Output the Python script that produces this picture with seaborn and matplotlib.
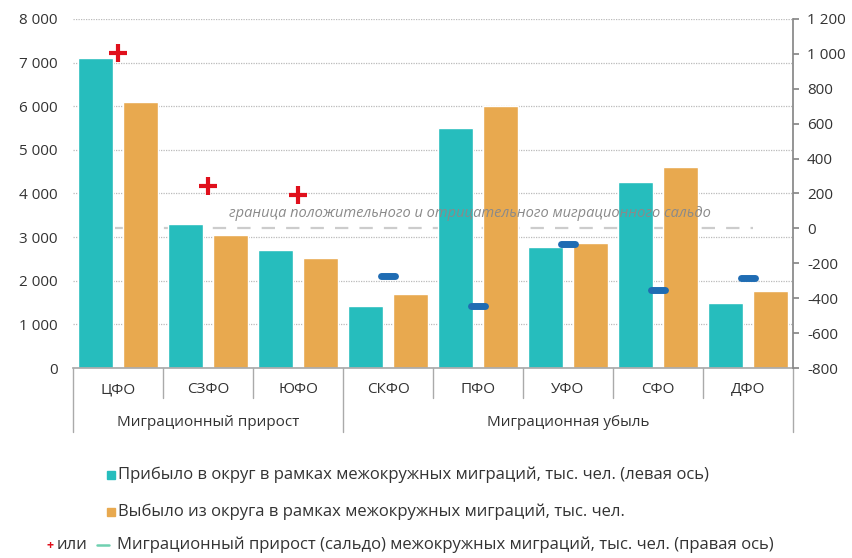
import numpy as np
import pandas as pd
import matplotlib.pyplot as plt
from matplotlib.markers import MarkerStyle
from matplotlib.patches import Rectangle
from matplotlib.lines import Line2D
import seaborn as sns

# данные (тыс. чел.)
okruga = ["ЦФО", "СЗФО", "ЮФО", "СКФО", "ПФО", "УФО", "СФО", "ДФО"]
pribylo = [7100, 3300, 2700, 1420, 5500, 2780, 4270, 1490]
vybylo = [6100, 3050, 2520, 1700, 6000, 2870, 4610, 1770]
saldo = [1005, 243, 191, -273, -445, -92, -353, -284]
gruppy = ["Миграционный прирост", "Миграционная убыль"]
gruppy_span = [(0, 3), (3, 8)]
left_ticks = [0, 1000, 2000, 3000, 4000, 5000, 6000, 7000, 8000]
right_ticks = [-800, -600, -400, -200, 0, 200, 400, 600, 800, 1000, 1200]

TEAL = "#26bdbd"
ORANGE = "#e8a94f"
RED = "#e0101c"
BLUE = "#1f6cb3"
TXT = "#333333"

sns.set_theme(style="white")
plt.rcParams["font.family"] = ["Open Sans", "DejaVu Sans"]

df = pd.DataFrame({
    "okrug": okruga * 2,
    "value": pribylo + vybylo,
    "series": ["pribylo"] * len(okruga) + ["vybylo"] * len(okruga),
})

fig = plt.figure(figsize=(8.52, 5.58), dpi=100)
ax = fig.add_axes([73 / 852, 1 - 368 / 558, 720 / 852, 349 / 558])

sns.barplot(data=df, x="okrug", y="value", hue="series", order=okruga,
            palette={"pribylo": TEAL, "vybylo": ORANGE}, width=1.0, gap=0.22,
            saturation=1, legend=False, ax=ax, zorder=2)

ax.set_xlim(-0.5, len(okruga) - 0.5)
ax.set_ylim(0, 8000)
ax.set_yticks(left_ticks)
ax.set_yticklabels([f"{t:,}".replace(",", " ") for t in left_ticks], fontsize=11, color=TXT)
ax.tick_params(axis="y", length=0, pad=11)
ax.set_xlabel("")
ax.set_ylabel("")
ax.set_xticks([])
ax.yaxis.grid(True, linestyle=(0, (1, 1)), color="#bbbbbb", linewidth=0.9)
ax.set_axisbelow(True)
for s in ["left", "top", "right"]:
    ax.spines[s].set_visible(False)
ax.spines["bottom"].set_color("#aaaaaa")

# граница сальдо (0 на правой оси = 3200 на левой), за столбцами
ax.plot([-0.03, 7.05], [3200, 3200], linestyle=(0, (6, 5)), color="#cccccc",
        linewidth=1.6, zorder=1)

# правая ось — сальдо
ax2 = ax.twinx()
ax2.set_ylim(-800, 1200)
ax2.set_yticks(right_ticks)
ax2.set_yticklabels([f"{t:,}".replace(",", " ") for t in right_ticks], fontsize=11, color=TXT)
ax2.tick_params(axis="y", length=4, color="#888888", direction="out", pad=6)
for s in ["left", "top", "bottom"]:
    ax2.spines[s].set_visible(False)
ax2.spines["right"].set_color("#888888")

xs = np.arange(len(okruga))
sal = np.array(saldo)
pos = sal >= 0
ax2.plot(xs[pos], sal[pos], linestyle="none", marker="+", markersize=13,
         markeredgewidth=3, color=RED, zorder=5)
dash = MarkerStyle("_", capstyle="round")
ax2.plot(xs[~pos], sal[~pos], linestyle="none", marker=dash, markersize=10,
         markeredgewidth=5, color=BLUE, zorder=5)

ax2.text(3.91, 88, "граница положительного и отрицательного миграционного сальдо",
         ha="center", va="center", fontsize=10.5, style="italic", color="#8a8a8a", zorder=6)

# подписи категорий в два уровня
tr = ax.get_xaxis_transform()
for i, name in enumerate(okruga):
    ax.text(i, -0.063, name, transform=tr, ha="center", va="center", fontsize=11, color=TXT)
for b in range(len(okruga) + 1):
    x = b - 0.5
    y_end = -0.183 if b in (0, 3, 8) else -0.086
    ax.add_line(Line2D([x, x], [0, y_end], transform=tr, color="#aaaaaa",
                       linewidth=1, clip_on=False))
for name, (a, b) in zip(gruppy, gruppy_span):
    ax.text((a + b - 1) / 2, -0.155, name, transform=tr, ha="center", va="center",
            fontsize=11, color=TXT)

# легенда
fig.patches.append(Rectangle((107 / 852, 1 - 479 / 558), 8 / 852, 8 / 558,
                             transform=fig.transFigure, color=TEAL))
fig.text(118 / 852, 1 - 475 / 558,
         "Прибыло в округ в рамках межокружных миграций, тыс. чел. (левая ось)",
         ha="left", va="center", fontsize=12, color=TXT)
fig.patches.append(Rectangle((107 / 852, 1 - 516 / 558), 8 / 852, 8 / 558,
                             transform=fig.transFigure, color=ORANGE))
fig.text(118 / 852, 1 - 512 / 558,
         "Выбыло из округа в рамках межокружных миграций, тыс. чел.",
         ha="left", va="center", fontsize=12, color=TXT)
fig.text(50 / 852, 1 - 545 / 558, "+", ha="center", va="center", fontsize=9,
         color=RED, fontweight="bold")
fig.text(57 / 852, 1 - 545 / 558, "или", ha="left", va="center", fontsize=12, color=TXT)
fig.add_artist(Line2D([97 / 852, 109 / 852], [1 - 545 / 558, 1 - 545 / 558],
                      transform=fig.transFigure, color="#6fd0b0", linewidth=1.8))
fig.text(117 / 852, 1 - 545 / 558,
         "Миграционный прирост (сальдо) межокружных миграций, тыс. чел. (правая ось)",
         ha="left", va="center", fontsize=12, color=TXT)

fig.savefig("out.png", dpi=100)
